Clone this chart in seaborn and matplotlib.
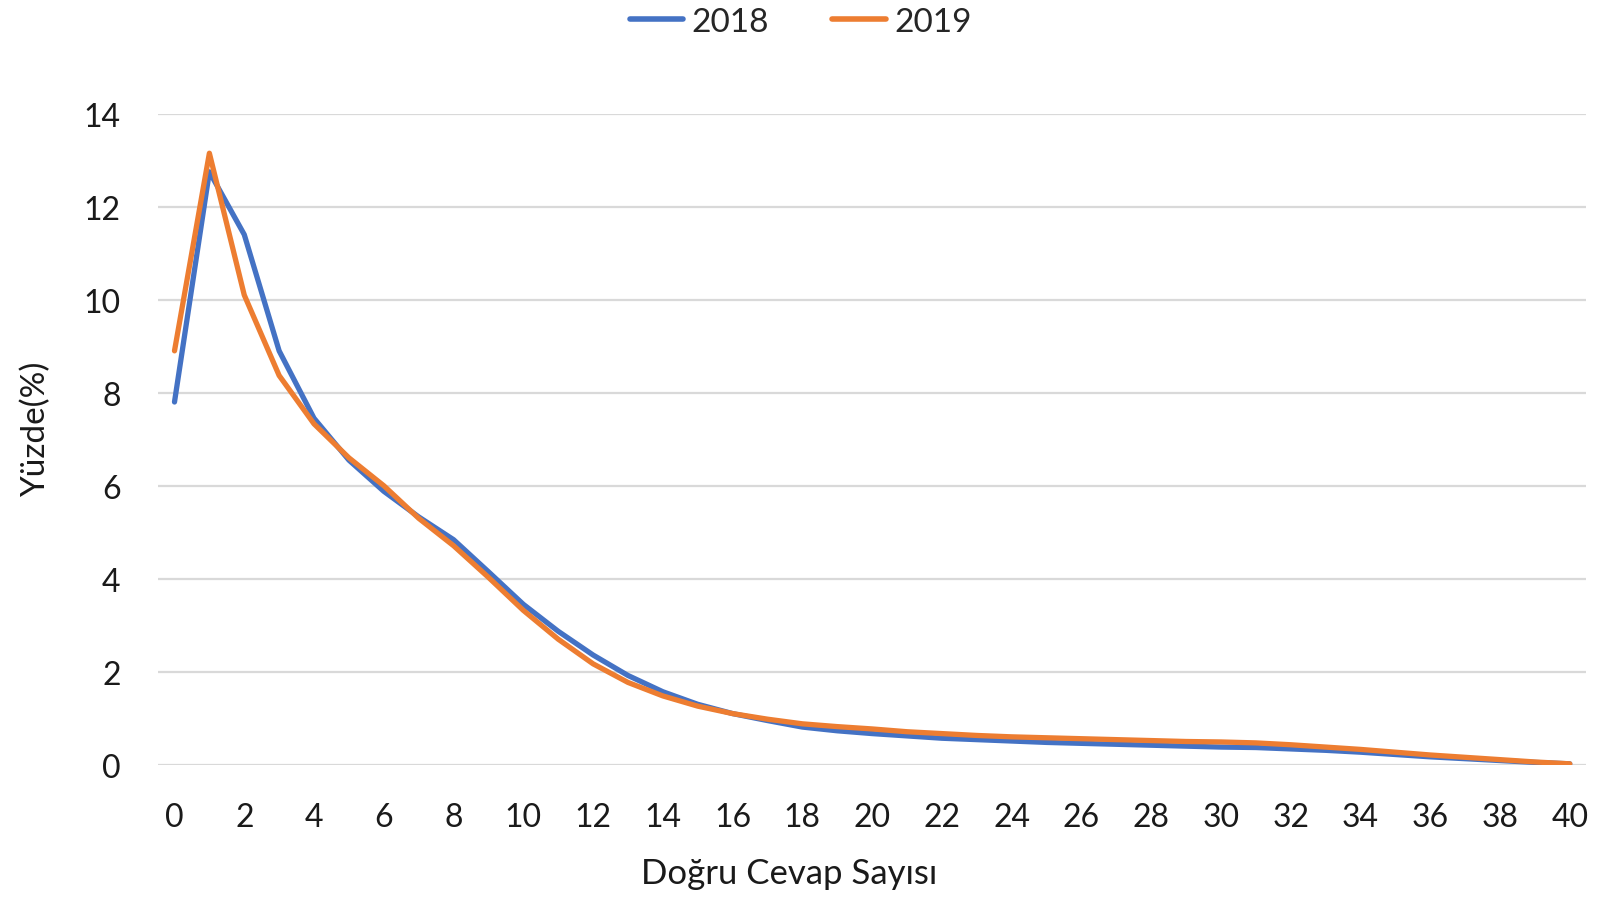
import matplotlib
matplotlib.use("Agg")
import matplotlib.pyplot as plt
import seaborn as sns
import pandas as pd

# number of correct answers 0..40
dogru = list(range(41))
yuzde_2018 = [7.8, 12.75, 11.4, 8.9, 7.45, 6.55, 5.88, 5.33, 4.84, 4.15, 3.45, 2.87, 2.36, 1.92,
              1.57, 1.3, 1.1, 0.95, 0.81, 0.73, 0.67, 0.62, 0.57, 0.54, 0.51, 0.48, 0.46, 0.44,
              0.42, 0.40, 0.38, 0.37, 0.34, 0.31, 0.27, 0.22, 0.17, 0.13, 0.09, 0.05, 0.02]
yuzde_2019 = [8.9, 13.15, 10.1, 8.37, 7.33, 6.6, 6.0, 5.3, 4.71, 4.03, 3.32, 2.7, 2.17, 1.77,
              1.48, 1.26, 1.1, 0.98, 0.88, 0.82, 0.77, 0.71, 0.67, 0.63, 0.60, 0.58, 0.56, 0.54,
              0.52, 0.50, 0.49, 0.47, 0.43, 0.38, 0.33, 0.27, 0.21, 0.16, 0.11, 0.06, 0.02]
yillar = ["2018", "2019"]
renkler = ["#4472C4", "#ED7D31"]

df = pd.DataFrame({
    "Doğru Cevap Sayısı": dogru * 2,
    "Yüzde(%)": yuzde_2018 + yuzde_2019,
    "Yıl": [yillar[0]] * 41 + [yillar[1]] * 41,
})

sns.set_style("white")
plt.rcParams["font.family"] = ["Lato", "DejaVu Sans"]

fig = plt.figure(figsize=(15.97, 9.03), dpi=100)
ax = fig.add_axes([0.099, 0.152, 0.894, 0.721])

sns.lineplot(data=df, x="Doğru Cevap Sayısı", y="Yüzde(%)", hue="Yıl",
             palette=renkler, linewidth=3.8, ax=ax, solid_capstyle="round")

ax.set_xlim(-0.47, 40.46)
ax.set_ylim(0, 14)
ax.set_xticks(range(0, 41, 2))
ax.set_yticks(range(0, 15, 2))
ax.yaxis.grid(True, color="#d9d9d9", linewidth=1.6)
ax.set_axisbelow(True)
for s in ax.spines.values():
    s.set_visible(False)
ax.tick_params(axis="both", labelsize=23, length=0, colors="#1a1a1a")
ax.tick_params(axis="y", pad=27)
ax.tick_params(axis="x", pad=27)
ax.set_xlabel("Doğru Cevap Sayısı", fontsize=25, labelpad=18, color="#1a1a1a", x=0.442)
ax.set_ylabel("Yüzde(%)", fontsize=24, labelpad=23, color="#1a1a1a", y=0.516)

leg = ax.legend(loc="upper center", bbox_to_anchor=(0.45, 1.21), ncol=2, frameon=False,
                fontsize=24, handlelength=1.6, handletextpad=0.25, columnspacing=1.9)
for line in leg.get_lines():
    line.set_linewidth(4)

fig.savefig("out.png", dpi=100)
